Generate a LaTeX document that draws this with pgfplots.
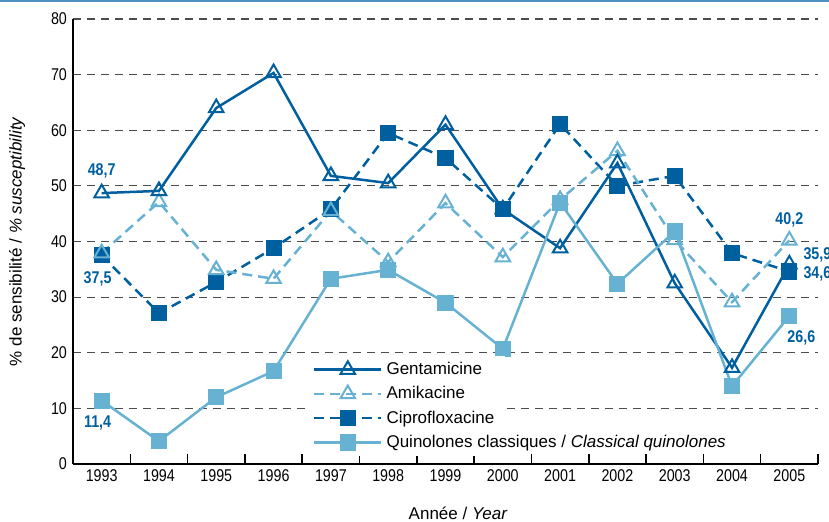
\documentclass[border=0pt]{standalone}
\usepackage{fontspec}
\setmainfont{Liberation Sans}
\newfontfamily\narrowfont{Liberation Sans}[FakeStretch=0.84]
\usepackage{pgfplots}
\pgfplotsset{compat=1.18}
\definecolor{dblue}{RGB}{0,95,158}
\definecolor{lblue}{RGB}{103,178,210}
\definecolor{frameblue}{RGB}{80,145,195}

\pgfplotsset{
  gent/.style={dblue, solid, line width=1.25pt, mark=triangle, mark size=4.2pt,
    mark options={solid, fill=white, line width=1pt}},
  amik/.style={lblue, line width=1.25pt, dash pattern=on 5pt off 3pt, mark=triangle, mark size=4.2pt,
    mark options={solid, fill=white, line width=1pt}},
  cipro/.style={dblue, line width=1.25pt, dash pattern=on 5pt off 3pt, mark=square*, mark size=3.4pt,
    mark options={solid}},
  quin/.style={lblue, solid, line width=1.25pt, mark=square*, mark size=3.4pt,
    mark options={solid}},
}

\begin{document}
\fontsize{8.5}{10}\selectfont
\begin{tikzpicture}
\begin{axis}[
  scale only axis,
  width=372.5pt, height=222.5pt,
  xmin=-0.5, xmax=12.5, ymin=0, ymax=80,
  clip=false,
  axis x line*=bottom, axis y line*=left,
  axis line style={-, line width=0.8pt, black},
  xtick={0,1,2,3,4,5,6,7,8,9,10,11,12},
  xticklabels={1993,1994,1995,1996,1997,1998,1999,2000,2001,2002,2003,2004,2005},
  minor xtick={-0.5,0.5,1.5,2.5,3.5,4.5,5.5,6.5,7.5,8.5,9.5,10.5,11.5,12.5},
  major tick length=0pt, minor tick length=5pt, tick align=inside,
  minor tick style={line width=0.8pt, black},
  ytick={0,10,20,30,40,50,60,70,80},
  ymajorgrids,
  grid style={dash pattern=on 4pt off 3pt, black!70, line width=0.6pt},
  tick label style={font=\narrowfont\fontsize{8.5}{10}\selectfont},
  /pgf/number format/assume math mode=true,
  ylabel={\% de sensibilité / \textit{\% susceptibility}},
  ylabel style={at={(axis description cs:-0.075,0.5)}, anchor=center},
  xlabel={Année / \textit{Year}},
  xlabel style={at={(axis description cs:0.517,-0.11)}, anchor=center},
  legend style={at={(axis description cs:0.319,0.243)}, anchor=north west,
    draw=none, fill=white, row sep=0.7pt, inner sep=1pt,
    font=\fontsize{8.5}{10}\selectfont, cells={anchor=west}},
  legend image code/.code={\draw[mark repeat=2,mark phase=2,#1]
    plot coordinates {(0pt,0pt) (16.75pt,0pt) (33.5pt,0pt)};},
]
\addlegendimage{gent}
\addlegendentry{Gentamicine}
\addlegendimage{amik}
\addlegendentry{Amikacine}
\addlegendimage{cipro}
\addlegendentry{Ciprofloxacine}
\addlegendimage{quin}
\addlegendentry{\makebox[56pt][l]{Quinolones classiques / \textit{Classical quinolones}}}

% Ciprofloxacine
\addplot[cipro, forget plot] coordinates {
  (0,37.5) (1,27.1) (2,32.7) (3,38.8) (4,45.8) (5,59.5) (6,55.0)
  (7,45.8) (8,61.1) (9,50.0) (10,51.8) (11,37.9) (12,34.6)};
% Amikacine
\addplot[amik, forget plot] coordinates {
  (0,37.9) (1,47.1) (2,34.9) (3,33.3) (4,45.5) (5,36.3) (6,46.9)
  (7,37.2) (8,47.5) (9,56.3) (10,40.3) (11,29.1) (12,40.2)};
% Gentamicine
\addplot[gent, forget plot] coordinates {
  (0,48.7) (1,49.1) (2,64.0) (3,70.3) (4,51.8) (5,50.5) (6,61.0)
  (7,45.8) (8,38.8) (9,54.1) (10,32.5) (11,17.3) (12,35.9)};
% Quinolones classiques
\addplot[quin, forget plot] coordinates {
  (0,11.4) (1,4.1) (2,12.0) (3,16.7) (4,33.3) (5,34.9) (6,29.0)
  (7,20.7) (8,47.0) (9,32.4) (10,41.8) (11,14.0) (12,26.6)};

\tikzset{vlab/.style={dblue, font=\narrowfont\fontsize{8.5}{10}\selectfont\bfseries}}
\node[vlab] at (axis cs:0,52.7) {48,7};
\node[vlab] at (axis cs:-0.07,33.3) {37,5};
\node[vlab] at (axis cs:-0.07,7.4) {11,4};
\node[vlab] at (axis cs:12,43.9) {40,2};
\node[vlab, anchor=west, inner sep=0pt] at (axis cs:12.24,37.6) {35,9};
\node[vlab, anchor=west, inner sep=0pt] at (axis cs:12.24,34.2) {34,6};
\node[vlab] at (axis cs:12.21,22.7) {26,6};

\coordinate (bl) at (rel axis cs:0,0);
\coordinate (tr) at (rel axis cs:1,1);
\coordinate (tl) at (rel axis cs:0,1);
\end{axis}
\pgfresetboundingbox
\path[use as bounding box] ([shift={(-36.5pt,-29pt)}]bl) rectangle ([shift={(5.5pt,9.5pt)}]tr);
\draw[frameblue, line width=1pt] ([shift={(-36.5pt,9pt)}]tl) -- ([shift={(5.5pt,9pt)}]tr);
\end{tikzpicture}
\end{document}
